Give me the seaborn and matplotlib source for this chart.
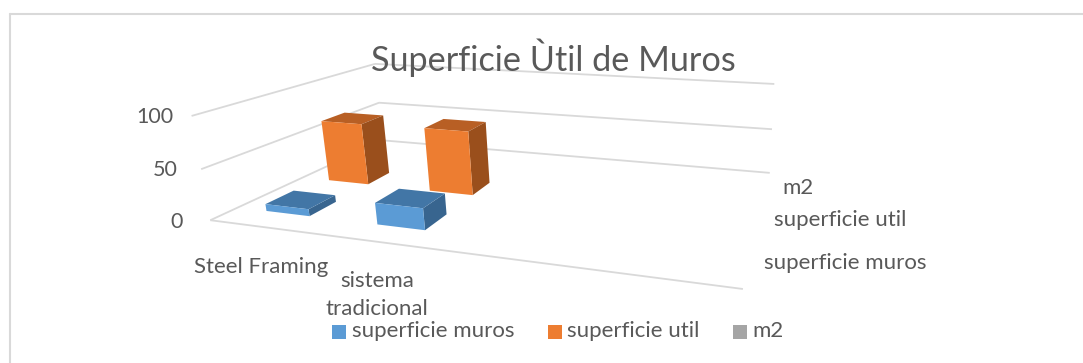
import numpy as np
import matplotlib
matplotlib.use("Agg")
import matplotlib.pyplot as plt
from matplotlib.patches import Rectangle
from matplotlib.lines import Line2D
from mpl_toolkits.mplot3d.art3d import Line3DCollection
import seaborn as sns

W, H = 1083, 363
categories = ["Steel Framing", "sistema\ntradicional"]
series = ["superficie muros", "superficie util", "m2"]
superficie_muros = [7, 21]
superficie_util = [66, 67]
m2 = [0, 0]
z_ticks = [0, 50, 100]
title = "Superficie Ùtil de Muros"

sns.set_theme(style="white")
plt.rcParams["font.family"] = ["Lato", "DejaVu Sans"]
TXT = "#595959"
GRID = "#D9D9D9"
front = ["#5B9BD5", "#ED7D31", "#A5A5A5"]
top = ["#4276A6", "#B85F24", "#7C7C7C"]
side = ["#38658F", "#9A4F1C", "#6A6A6A"]

NX, NY, ZMAX = 4.0, 3.0, 100.0
# (x, y, z) box corners -> reference pixel
corr = [((0, 0, 0), (206, 221)), ((NX, 0, 0), (743, 289)),
        ((NX, NY, 0), (768, 173)), ((0, NY, 0), (387, 140)),
        ((0, 0, 50), (201, 169)), ((0, NY, 50), (380, 102)),
        ((NX, NY, 50), (772, 129)), ((0, 0, 100), (196, 115)),
        ((0, NY, 100), (370, 65)), ((NX, NY, 100), (776, 84))]
rows = []
for (x, y, z), (u, v) in corr:
    rows.append([x, y, z, 1, 0, 0, 0, 0, -u*x, -u*y, -u*z, -u])
    rows.append([0, 0, 0, 0, x, y, z, 1, -v*x, -v*y, -v*z, -v])
Hm = np.linalg.svd(np.array(rows, float))[2][-1].reshape(3, 4)
Hm = Hm / Hm[2, 3]

fig = plt.figure(figsize=(W/100, H/100), dpi=100)
ax = fig.add_axes([0, 0, 1, 1], projection="3d")
ax.set_axis_off()
ax.patch.set_alpha(0)
ax.computed_zorder = False


def get_proj():
    A = ax.transData.inverted().get_matrix()
    F = np.array([[1, 0, 0], [0, -1, H], [0, 0, 1.0]])
    P = A @ F @ Hm
    return np.array([P[0], P[1], [0, 1/NY, 0, 0], P[2]])


ax.get_proj = get_proj

segs = [[(0, 0, 0), (NX, 0, 0)]]
for z in z_ticks:
    segs.append([(0, 0, z), (0, NY, z)])
    segs.append([(0, NY, z), (NX, NY, z)])
grid = Line3DCollection(segs, colors=GRID, linewidths=1.3, zorder=1)
ax.add_collection3d(grid, autolim=False)
grid.set_clip_on(False)

bw, bd = 0.40, 0.42
order = 2
for j, vals in reversed(list(enumerate([superficie_muros, superficie_util, m2]))):
    for i, v in enumerate(vals):
        if v <= 0:
            continue
        none = (0, 0, 0, 0)
        cols = [none, top[j], front[j], none, none, side[j]]
        c = ax.bar3d(i + 0.475 - bw/2, j + 0.57 - bd/2, 0, bw, bd, v, color=cols,
                     shade=False, edgecolor="none", zorder=order)
        c.set_clip_on(False)
        order += 1


def px(x, y, s, size, ha="left", va="center", **k):
    fig.text(x/W, 1 - y/H, s, fontsize=size, color=TXT, ha=ha, va=va, **k)


px(553, 58, title, 24.7, ha="center")
for z, y, x in zip(z_ticks, [222, 170, 117], [183, 178, 173]):
    px(x, y, str(z), 15.5, ha="right")
px(261, 267, categories[0], 16, ha="center")
px(377, 295, categories[1], 16, ha="center", linespacing=1.45)
px(782, 188, series[2], 16)
px(774, 220, series[1], 16)
px(764, 263, series[0], 16)

# chart frame: only top and left edges remain in the crop
fig.add_artist(Line2D([9.5/W, 1], [1 - 13.5/H, 1 - 13.5/H], color=GRID, lw=1.5))
fig.add_artist(Line2D([9.5/W, 9.5/W], [0, 1 - 13.5/H], color=GRID, lw=1.5))
for sx, tx, col, s in zip([332, 548, 733], [352, 567, 752], front, series):
    fig.patches.append(Rectangle((sx/W, 1 - 339/H), 14/W, 14/H, transform=fig.transFigure,
                                 fc=col, ec="none", figure=fig))
    px(tx, 331, s, 16)

fig.savefig("out.png", dpi=100)
